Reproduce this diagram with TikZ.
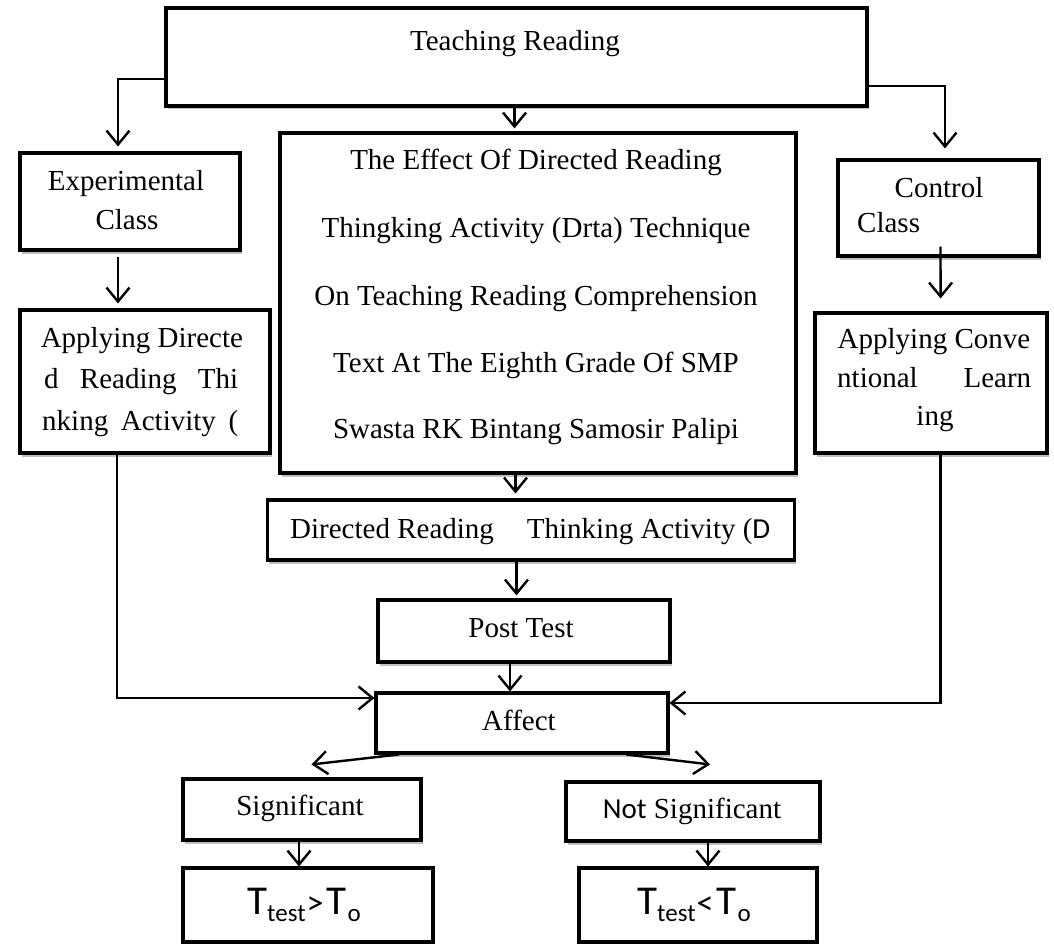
\documentclass[tikz,border=0pt]{standalone}
\usepackage{fontspec}
\setmainfont{Liberation Serif}
\newfontfamily\calibf{Carlito}
\usetikzlibrary{arrows.meta,shadows}
\newcommand\tcmp[1]{{\calibf\fontsize{41}{41}\selectfont T\kern0pt\raisebox{-7pt}{\fontsize{25}{25}\selectfont test}\kern1pt{\fontsize{34}{34}\selectfont #1}\kern3pt T\kern1pt\raisebox{-7pt}{\fontsize{25}{25}\selectfont o}}}
\tikzset{
  box/.style={draw, line width=3.1pt, fill=white, inner sep=0pt,
    drop shadow={shadow xshift=1.5pt, shadow yshift=-3.5pt, fill=black!25, opacity=1}},
  txt/.style={inner sep=0pt, anchor=base, font=\fontsize{29}{34}\selectfont},
  conn/.style={line width=2.4pt, -{Straight Barb[length=14pt,width=23pt,line width=2.4pt]}}
}
\begin{document}
\begin{tikzpicture}[x=1pt,y=-1pt]
\fill[white] (0,0) rectangle (1054,944);
\useasboundingbox (0,0) rectangle (1054,944);
% boxes
\node[box, minimum width=701pt, minimum height=98pt] (TR) at (516.5,57) {};
\node[box, minimum width=220pt, minimum height=97pt] (Exp) at (130,201.5) {};
\node[box, minimum width=250pt, minimum height=143pt] (ApD) at (145,381.5) {};
\node[box, minimum width=516pt, minimum height=340pt] (Ctr) at (538,303) {};
\node[box, minimum width=201pt, minimum height=96pt] (Con) at (938.5,208) {};
\node[box, minimum width=232pt, minimum height=140pt] (ApC) at (931,383) {};
\node[box, minimum width=527pt, minimum height=60pt] (Dir) at (531.3,530) {};
\node[box, minimum width=292pt, minimum height=62pt] (Post) at (524,631) {};
\node[box, minimum width=292pt, minimum height=60pt] (Aff) at (522,723) {};
\node[box, minimum width=238pt, minimum height=61pt] (Sig) at (302,809.5) {};
\node[box, minimum width=254pt, minimum height=59pt] (NSig) at (693,811.5) {};
\node[box, minimum width=250pt, minimum height=74pt] (T1) at (308,905) {};
\node[box, minimum width=238pt, minimum height=74pt] (T2) at (698,905) {};
% texts
\node[txt] (tTR) at (515,51) {Teaching Reading};
\node[txt] (tExp1) at (126,191) {Experimental};
\node[txt] (tExp2) at (127,229) {Class};
\node[txt, anchor=base west] (tApD1) at (40.6,347) {Applying Directe};
\node[txt, anchor=base west] (tApD2) at (44,388) {\makebox[194pt][s]{d Reading Thi}};
\node[txt, anchor=base west] (tApD3) at (42,430) {\makebox[196pt][s]{nking Activity (}};
\node[txt] (tC1) at (536,170) {The Effect Of Directed Reading};
\node[txt] (tC2) at (536,237) {Thingking Activity (Drta) Technique};
\node[txt] (tC3) at (536,305) {On Teaching Reading Comprehension};
\node[txt] (tC4) at (536,372) {Text At The Eighth Grade Of SMP};
\node[txt] (tC5) at (536,438) {Swasta RK Bintang Samosir Palipi};
\node[txt] (tCon1) at (939,197) {Control};
\node[txt, anchor=base west] (tCon2) at (857,233) {Class};
\node[txt, anchor=base west] (tApC1) at (837.5,348) {Applying Conve};
\node[txt, anchor=base west] (tApC2) at (837,387) {\makebox[194pt][s]{ntional Learn}};
\node[txt] (tApC3) at (935,425) {ing};
\node[txt, anchor=base west] (tDir) at (290,538) {Directed Reading\hspace{33pt}Thinking Activity ({\calibf D}};
\node[txt] (tPost) at (521,637) {Post Test};
\node[txt] (tAff) at (519,730) {Affect};
\node[txt] (tSig) at (300,815) {Significant};
\node[txt] (tNSig) at (692,818) {{\calibf Not} Significant};
\node[txt] (tT1) at (304,914) {\tcmp{>}};
\node[txt] (tT2) at (694,914) {\tcmp{<}};
% connectors
\draw[conn, shorten >=5pt] ([yshift=-22pt]TR.west) -| ([xshift=-12pt]Exp.north);
\draw[conn, shorten >=3pt] ([xshift=-2pt]TR.south) -- ([xshift=-23.5pt]Ctr.north);
\draw[conn, shorten >=10pt] ([yshift=-29pt]TR.east) -| ([xshift=6.5pt]Con.north);
\draw[conn, shorten >=5pt] ([xshift=-12pt,yshift=-5pt]Exp.south) -- ([xshift=-27pt]ApD.north);
\draw[conn, shorten >=13pt] ([xshift=2pt,yshift=11pt]Con.south) -- ([xshift=9.6pt]ApC.north);
\draw[conn, shorten >=5pt] ([xshift=-22.5pt]Ctr.south) -- ([xshift=-15.8pt]Dir.north);
\draw[conn, shorten >=3pt] ([xshift=-14.8pt]Dir.south) -- ([xshift=-7.5pt]Post.north);
\draw[conn] ([xshift=-14pt]Post.south) -- ([xshift=-12pt]Aff.north);
\draw[conn] ([xshift=-28pt]ApD.south) |- ([yshift=25pt]Aff.west);
\draw[conn] ([xshift=9.6pt]ApC.south) |- ([yshift=20pt]Aff.east);
\draw[conn] ([xshift=24pt]Aff.south west) -- ([xshift=130pt,yshift=13pt]Sig.north west);
\draw[conn] ([xshift=-43pt]Aff.south east) -- ([xshift=17pt,yshift=16pt]NSig.north);
\draw[conn] ([xshift=-3pt]Sig.south) -- ([xshift=-9pt]T1.north);
\draw[conn] ([xshift=15pt]NSig.south) -- ([xshift=10pt]T2.north);
\end{tikzpicture}
\end{document}
